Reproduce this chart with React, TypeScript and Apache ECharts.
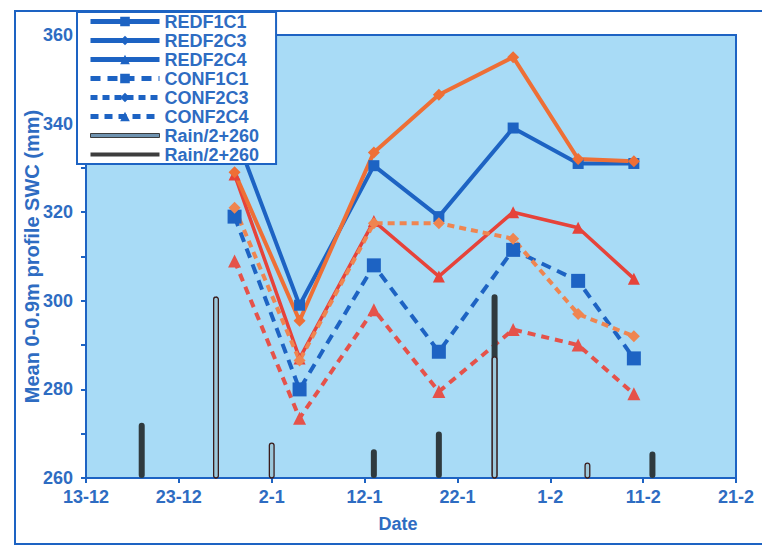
import React, { useEffect, useRef } from 'react';
import * as echarts from 'echarts';

// Sampling dates (day-month) and mean 0-0.9 m profile soil water content (mm)
const sampleDates = ['29-12', '5-1', '13-1', '20-1', '28-1', '4-2', '10-2'];
const redF1C1 = [338, 299, 330.5, 319, 339, 331, 331];
const redF2C3 = [329, 295.5, 333.5, 346.5, 355, 332, 331.5];
const redF2C4 = [328.5, 287, 318, 305.5, 320, 316.5, 305];
const conF1C1 = [319, 280, 308, 288.5, 311.5, 304.5, 287];
const conF2C3 = [321, 286.5, 317.5, 317.5, 314, 297, 292];
const conF2C4 = [309, 273.5, 298, 279.5, 293.5, 290, 279];

// Rain events plotted as Rain/2+260
const rainOutlineDates = ['27-12', '2-1', '26-1', '5-2'];
const rainOutline = [301, 268, 287.5, 263.5];
const rainSolidDates = ['19-12', '13-1', '20-1', '26-1', '12-2'];
const rainSolid = [272.5, 266.5, 270.5, 301.5, 266];

const xTickLabels = ['13-12', '23-12', '2-1', '12-1', '22-1', '1-2', '11-2', '21-2'];

const BLUE = '#1d63c3';
const TEXT_BLUE = '#2e6cc2';
const ORANGE = '#ee6f36';
const ORANGE_DASH = '#ef8550';
const RED = '#e6433a';
const RED_DASH = '#e5524a';
const FONT = '"Liberation Sans", Arial, sans-serif';

const START = Date.UTC(2003, 11, 13);
const dayOf = (s: string) => {
  const [d, m] = s.split('-').map(Number);
  const t = Date.UTC(m === 12 ? 2003 : 2004, m - 1, d);
  return Math.round((t - START) / 864e5);
};

const pairs = (dates: string[], vals: number[]) => dates.map((d, i) => [dayOf(d), vals[i]]);

const lineSeries = (
  name: string,
  vals: number[],
  color: string,
  dash: number[] | null,
  symbol: string,
  size: number,
  width: number
) => ({
  name,
  type: 'line',
  data: pairs(sampleDates, vals),
  symbol,
  symbolSize: size,
  itemStyle: { color },
  lineStyle: { color, width, type: dash ? dash : 'solid' },
  z: 2,
});

const rainIcon = 'path://M0,0M69,12M0,4L69,4L69,8L0,8Z';

export default function App() {
  const ref = useRef<HTMLDivElement>(null);

  useEffect(() => {
    document.body.style.margin = '0';
    if (!ref.current) return;
    const chart = echarts.init(ref.current, undefined, { renderer: 'svg' });

    const legendLine = (name: string) => ({
      name,
      itemStyle: { color: BLUE },
      lineStyle: { color: BLUE, width: 5 },
    });

    chart.setOption({
      animation: false,
      backgroundColor: '#ffffff',
      textStyle: { fontFamily: FONT },
      graphic: [
        {
          type: 'rect',
          shape: { x: 15, y: 11, width: 760, height: 533 },
          style: { fill: 'none', stroke: BLUE, lineWidth: 2 },
          silent: true,
          z: -1,
        },
      ],
      grid: {
        left: 86,
        right: 26,
        top: 35,
        bottom: 72,
        show: true,
        backgroundColor: '#a8dbf6',
        borderColor: BLUE,
        borderWidth: 2,
      },
      legend: {
        orient: 'vertical',
        left: 77,
        top: 12,
        padding: [0, 12, 0, 11],
        itemWidth: 69,
        itemHeight: 12,
        itemGap: 0,
        backgroundColor: '#ffffff',
        borderColor: BLUE,
        borderWidth: 2,
        borderRadius: 0,
        textStyle: {
          color: TEXT_BLUE,
          fontSize: 18,
          fontWeight: 'bold',
          fontFamily: FONT,
          lineHeight: 19,
        },
        data: [
          legendLine('REDF1C1'),
          legendLine('REDF2C3'),
          legendLine('REDF2C4'),
          legendLine('CONF1C1'),
          legendLine('CONF2C3'),
          legendLine('CONF2C4'),
          {
            name: 'Rain/2+260',
            icon: rainIcon,
            itemStyle: { color: '#6f93b0', borderColor: '#3c3c3c', borderWidth: 1 },
          },
          {
            name: 'Rain/2+260 ',
            icon: rainIcon,
            itemStyle: { color: '#3d3d3d' },
          },
        ],
      },
      xAxis: {
        type: 'value',
        min: 0,
        max: 70,
        interval: 10,
        name: 'Date',
        nameLocation: 'middle',
        nameGap: 37,
        nameMoveOverlap: false,
        nameTextStyle: {
          color: TEXT_BLUE,
          fontSize: 18,
          fontWeight: 'bold',
          fontFamily: FONT,
          padding: [0, 26, 0, 0],
        },
        axisLine: { show: true, onZero: false, lineStyle: { color: BLUE, width: 2 } },
        axisTick: { show: true, length: 5, lineStyle: { color: BLUE, width: 2 } },
        splitLine: { show: false },
        axisLabel: {
          color: TEXT_BLUE,
          fontSize: 18,
          fontWeight: 'bold',
          fontFamily: FONT,
          margin: 10,
          formatter: (v: number) => xTickLabels[Math.round(v / 10)] ?? '',
        },
      },
      yAxis: {
        type: 'value',
        min: 260,
        max: 360,
        interval: 20,
        name: 'Mean 0-0.9m profile SWC (mm)',
        nameLocation: 'middle',
        nameGap: 44,
        nameMoveOverlap: false,
        nameTextStyle: {
          color: TEXT_BLUE,
          fontSize: 20,
          fontWeight: 'bold',
          fontFamily: FONT,
        },
        axisLine: { show: true, lineStyle: { color: BLUE, width: 2 } },
        axisTick: { show: true, length: 5, lineStyle: { color: BLUE, width: 2 } },
        minorTick: { show: true, splitNumber: 2, length: 5, lineStyle: { color: BLUE, width: 2 } },
        splitLine: { show: false },
        axisLabel: {
          color: TEXT_BLUE,
          fontSize: 18,
          fontWeight: 'bold',
          fontFamily: FONT,
          margin: 13,
        },
      },
      series: [
        lineSeries('REDF1C1', redF1C1, BLUE, null, 'rect', 11, 4),
        lineSeries('CONF1C1', conF1C1, BLUE, [10, 7], 'rect', 14, 4),
        lineSeries('REDF2C4', redF2C4, RED, null, 'triangle', 12, 3.5),
        lineSeries('CONF2C4', conF2C4, RED_DASH, [8, 6], 'triangle', 13, 4),
        lineSeries('REDF2C3', redF2C3, ORANGE, null, 'diamond', 12, 4),
        lineSeries('CONF2C3', conF2C3, ORANGE_DASH, [7, 5], 'diamond', 12, 4),
        {
          name: 'Rain/2+260 ',
          type: 'bar',
          data: pairs(rainSolidDates, rainSolid),
          barWidth: 6,
          barGap: '-100%',
          itemStyle: { color: '#2f3a3e', borderRadius: 3 },
          z: 3,
        },
        {
          name: 'Rain/2+260',
          type: 'bar',
          data: pairs(rainOutlineDates, rainOutline),
          barWidth: 6,
          barGap: '-100%',
          itemStyle: {
            color: '#9cc8db',
            borderColor: '#3a1c1c',
            borderWidth: 1.3,
            borderRadius: 3,
          },
          z: 4,
        },
      ],
    });

    return () => chart.dispose();
  }, []);

  return <div ref={ref} style={{ width: 762, height: 550 }} />;
}
